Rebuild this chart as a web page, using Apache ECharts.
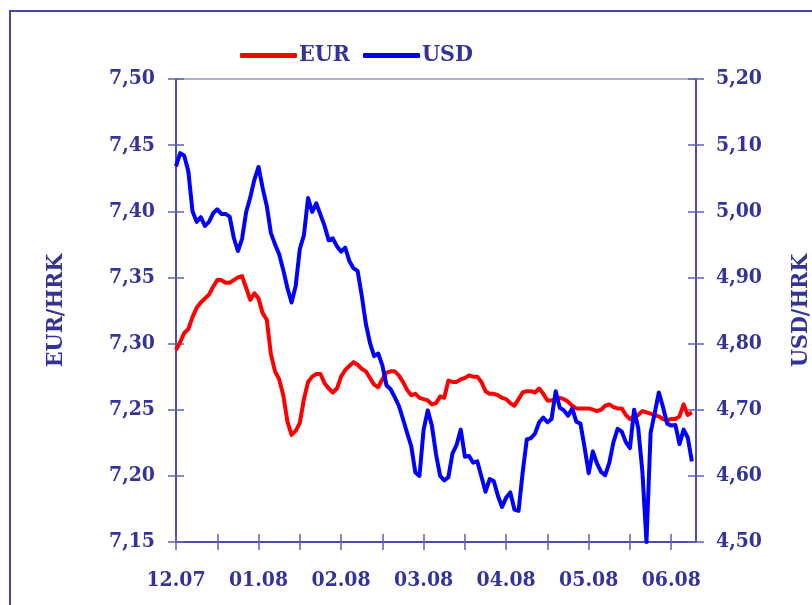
<!DOCTYPE html>
<html>
<head>
<meta charset="utf-8">
<title>EUR/HRK i USD/HRK</title>
<script src="https://cdn.jsdelivr.net/npm/echarts@6/dist/echarts.min.js"></script>
<style>
    html, body { margin: 0; padding: 0; background: #fff; overflow: hidden; }
    #chart { width: 812px; height: 605px; }
</style>
</head>
<body>
<div id="chart"></div>
<script>
// month labels, one every 20 trading days
var monthLabels = ['12.07', '01.08', '02.08', '03.08', '04.08', '05.08', '06.08'];
var dayCount = 127;

// EUR/HRK, left axis
var eurData = [
    7.295, 7.301, 7.308, 7.311, 7.320, 7.327, 7.331, 7.334, 7.337, 7.343,
    7.348, 7.348, 7.346, 7.346, 7.348, 7.350, 7.351, 7.342, 7.333, 7.338,
    7.334, 7.323, 7.318, 7.292, 7.279, 7.273, 7.261, 7.241, 7.231, 7.234,
    7.240, 7.258, 7.271, 7.275, 7.277, 7.277, 7.270, 7.266, 7.263, 7.266,
    7.275, 7.280, 7.283, 7.286, 7.284, 7.281, 7.279, 7.274, 7.269, 7.267,
    7.273, 7.278, 7.279, 7.279, 7.276, 7.271, 7.265, 7.261, 7.262, 7.259,
    7.258, 7.257, 7.254, 7.255, 7.260, 7.259, 7.272, 7.271, 7.271, 7.273,
    7.274, 7.276, 7.275, 7.275, 7.271, 7.264, 7.262, 7.262, 7.261, 7.259,
    7.258, 7.255, 7.253, 7.258, 7.263, 7.264, 7.264, 7.263, 7.266, 7.262,
    7.257, 7.257, 7.258, 7.259, 7.258, 7.256, 7.253, 7.251, 7.251, 7.251,
    7.251, 7.250, 7.249, 7.250, 7.253, 7.254, 7.252, 7.251, 7.251, 7.246,
    7.243, 7.245, 7.246, 7.249, 7.248, 7.247, 7.246, 7.245, 7.243, 7.242,
    7.243, 7.243, 7.245, 7.254, 7.246, 7.248
];

// USD/HRK, right axis
var usdData = [
    5.068, 5.088, 5.084, 5.060, 5.000, 4.984, 4.991, 4.978, 4.984, 4.997,
    5.003, 4.996, 4.996, 4.992, 4.960, 4.940, 4.958, 4.999, 5.021, 5.048,
    5.067, 5.035, 5.008, 4.967, 4.950, 4.935, 4.911, 4.884, 4.862, 4.887,
    4.943, 4.964, 5.020, 4.999, 5.012, 4.995, 4.978, 4.956, 4.959, 4.947,
    4.939, 4.945, 4.925, 4.914, 4.910, 4.873, 4.830, 4.801, 4.781, 4.785,
    4.767, 4.737, 4.731, 4.719, 4.706, 4.686, 4.665, 4.645, 4.605, 4.600,
    4.670, 4.699, 4.676, 4.633, 4.600, 4.593, 4.598, 4.634, 4.647, 4.670,
    4.629, 4.630, 4.620, 4.622, 4.599, 4.576, 4.595, 4.592, 4.570, 4.553,
    4.567, 4.575, 4.549, 4.547, 4.605, 4.655, 4.657, 4.664, 4.681, 4.688,
    4.681, 4.686, 4.728, 4.703, 4.699, 4.691, 4.702, 4.682, 4.679, 4.643,
    4.604, 4.637, 4.619, 4.606, 4.601, 4.620, 4.651, 4.671, 4.667, 4.651,
    4.642, 4.700, 4.672, 4.607, 4.500, 4.665, 4.695, 4.726, 4.704, 4.679,
    4.676, 4.677, 4.648, 4.670, 4.658, 4.622
];

var textColor = '#333399';
var lineColor = '#2b2b9a';
var tickColor = '#6262b4';
var fontName = '"DejaVu Serif Condensed", "DejaVu Serif", serif';

function initChart() {
    var categories = [];
    for (var i = 0; i < dayCount; i++) {
        categories.push(i % 20 === 0 ? monthLabels[i / 20] : '');
    }

    var tickEvery10 = function (index) {
        return index % 10 === 0;
    };
    var comma = function (v) {
        return v.toFixed(2).replace('.', ',');
    };
    var labelFont = {fontFamily: fontName, fontSize: 21, fontWeight: 'bold', color: textColor};

    var myChart = echarts.init(document.getElementById('chart'), null, {renderer: 'canvas'});
    var option = {
        animation: false,
        backgroundColor: '#fff',
        textStyle: {fontFamily: fontName, color: textColor},
        graphic: [
            {
                type: 'rect',
                shape: {x: 10, y: 11, width: 830, height: 640},
                style: {fill: 'none', stroke: '#4646aa', lineWidth: 2},
                silent: true
            }
        ],
        legend: {
            left: 235,
            top: 39,
            itemWidth: 57,
            itemHeight: 5,
            itemGap: 13,
            icon: 'roundRect',
            textStyle: {fontFamily: fontName, fontSize: 23, fontWeight: 'bold', color: textColor, padding: [0, 0, 0, -3]},
            data: ['EUR', 'USD']
        },
        grid: {
            left: 176,
            right: 116,
            top: 79,
            bottom: 63,
            containLabel: false,
            outerBoundsMode: 'none',
            show: true,
            borderColor: tickColor,
            borderWidth: 1
        },
        xAxis: [
            {
                type: 'category',
                data: categories,
                boundaryGap: false,
                position: 'bottom',
                axisLine: {onZero: false, lineStyle: {color: lineColor, width: 1.5}},
                axisTick: {show: true, inside: false, length: 8, interval: tickEvery10, lineStyle: {color: tickColor, width: 1.5}},
                axisLabel: echarts.util.extend({interval: 0, margin: 28}, labelFont),
                splitLine: {show: false}
            },
            {
                type: 'category',
                data: categories,
                boundaryGap: false,
                position: 'bottom',
                axisLine: {show: false, onZero: false},
                axisTick: {show: true, inside: true, length: 8, interval: tickEvery10, lineStyle: {color: tickColor, width: 1.5}},
                axisLabel: {show: false},
                splitLine: {show: false}
            }
        ],
        yAxis: [
            {
                type: 'value',
                position: 'left',
                min: 7.15,
                max: 7.50,
                interval: 0.05,
                name: 'EUR/HRK',
                nameLocation: 'middle',
                nameRotate: 90,
                nameGap: 108,
                nameTextStyle: {fontFamily: fontName, fontSize: 23, fontWeight: 'bold', color: textColor},
                axisLine: {show: true, lineStyle: {color: lineColor, width: 1.5}},
                axisTick: {show: true, length: 8, lineStyle: {color: tickColor, width: 1.5}},
                axisLabel: echarts.util.extend({margin: 21, formatter: comma}, labelFont),
                splitLine: {show: false}
            },
            {
                type: 'value',
                position: 'right',
                min: 4.5,
                max: 5.2,
                interval: 0.1,
                name: 'USD/HRK',
                nameLocation: 'middle',
                nameRotate: 90,
                nameGap: 94,
                nameTextStyle: {fontFamily: fontName, fontSize: 23, fontWeight: 'bold', color: textColor},
                axisLine: {show: true, lineStyle: {color: lineColor, width: 1.5}},
                axisTick: {show: true, length: 8, lineStyle: {color: tickColor, width: 1.5}},
                axisLabel: echarts.util.extend({margin: 20, formatter: comma}, labelFont),
                splitLine: {show: false}
            },
            {
                type: 'value',
                position: 'left',
                min: 7.15,
                max: 7.50,
                interval: 0.05,
                axisLine: {show: false},
                axisTick: {show: true, inside: true, length: 8, lineStyle: {color: tickColor, width: 1.5}},
                axisLabel: {show: false},
                splitLine: {show: false}
            },
            {
                type: 'value',
                position: 'right',
                min: 4.5,
                max: 5.2,
                interval: 0.1,
                axisLine: {show: false},
                axisTick: {show: true, inside: true, length: 8, lineStyle: {color: tickColor, width: 1.5}},
                axisLabel: {show: false},
                splitLine: {show: false}
            }
        ],
        series: [
            {
                name: 'EUR',
                type: 'line',
                yAxisIndex: 0,
                data: eurData,
                showSymbol: false,
                symbol: 'none',
                color: '#ff0000',
                lineStyle: {color: '#ff0000', width: 4, join: 'round'}
            },
            {
                name: 'USD',
                type: 'line',
                yAxisIndex: 1,
                data: usdData,
                showSymbol: false,
                symbol: 'none',
                color: '#0000ff',
                lineStyle: {color: '#0000ff', width: 4, join: 'round'}
            }
        ]
    };
    myChart.setOption(option);
}
initChart();
</script>
</body>
</html>
